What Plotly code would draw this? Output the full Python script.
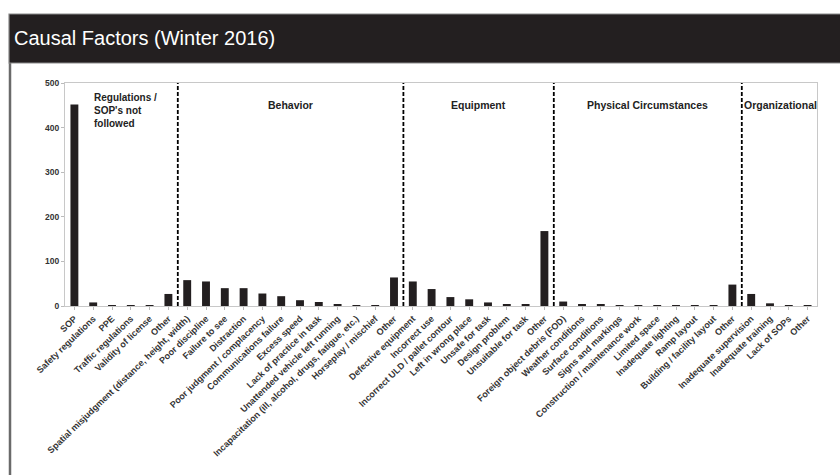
import plotly.graph_objects as go

W, H = 840, 475
# plot area in pixels
L, R, T, B = 65, 817, 83, 306

groups = ["Regulations /<br>SOP's not<br>followed", "Behavior", "Equipment",
          "Physical Circumstances", "Organizational"]

reg_labels = ["SOP", "Safety regulations", "PPE", "Traffic regulations",
              "Validity of license", "Other"]
reg_values = [452, 8, 2, 2, 1, 27]

beh_labels = ["Spatial misjudgment (distance, height, width)", "Poor discipline",
              "Failure to see", "Distraction", "Poor judgment / complacency",
              "Communications failure", "Excess speed", "Lack of practice in task",
              "Unattended vehicle left running",
              "Incapacitation (ill, alcohol, drugs, fatigue, etc.)",
              "Horseplay / mischief", "Other"]
beh_values = [58, 55, 40, 40, 28, 22, 13, 9, 4, 1, 1, 64]

equ_labels = ["Defective equipment", "Incorrect use", "Incorrect ULD / pallet contour",
              "Left in wrong place", "Unsafe for task", "Design problem",
              "Unsuitable for task", "Other"]
equ_values = [55, 38, 20, 15, 8, 4, 3, 168]

phy_labels = ["Foreign object debris (FOD)", "Weather conditions", "Surface conditions",
              "Signs and markings", "Construction / maintenance work", "Limited space",
              "Inadequate lighting", "Ramp layout", "Building / facility layout", "Other"]
phy_values = [10, 4, 3, 2, 1, 1, 1, 1, 1, 48]

org_labels = ["Inadequate supervision", "Inadequate training", "Lack of SOPs", "Other"]
org_values = [27, 6, 2, 2]

label_sets = [reg_labels, beh_labels, equ_labels, phy_labels, org_labels]
value_sets = [reg_values, beh_values, equ_values, phy_values, org_values]

labels = [l for s in label_sets for l in s]
values = [v for s in value_sets for v in s]
xs = list(range(len(labels)))

DARK = "#231f20"


def px_x(p):
    return (p - L) / (R - L)


def px_y(p):
    return (B - p) / (B - T)


fig = go.Figure(go.Bar(x=xs, y=values, width=0.42, marker_color=DARK,
                       marker_line_width=0, showlegend=False))

grp_font = dict(family="Liberation Sans", size=10.5, color="#222")

# group dividers and labels
start = 0
for i, (name, s) in enumerate(zip(groups, label_sets)):
    end = start + len(s)
    if i < len(groups) - 1:
        fig.add_shape(type="line", xref="x", yref="y", x0=end - 0.5, x1=end - 0.5,
                      y0=0, y1=500, line=dict(color="black", width=1.8, dash="4px,2px"))
    if i == 0:
        fig.add_annotation(x=start + 0.95, y=484, text=f"<b>{name}</b>", showarrow=False,
                           xanchor="left", yanchor="top", align="left",
                           font=dict(grp_font, size=10))
    elif i == len(groups) - 1:
        fig.add_annotation(x=start - 0.48, y=450, text=f"<b>{name}</b>", showarrow=False,
                           xanchor="left", yanchor="middle", font=grp_font)
    else:
        fig.add_annotation(x=(start + end - 1) / 2, y=450, text=f"<b>{name}</b>",
                           showarrow=False, xanchor="center", yanchor="middle",
                           font=grp_font)
    start = end

# slide body left edge and title band
fig.add_shape(type="line", xref="paper", yref="paper",
              x0=px_x(10), x1=px_x(10), y0=px_y(63), y1=px_y(500),
              line=dict(color="#6a6a6a", width=2.5))
fig.add_shape(type="rect", xref="paper", yref="paper",
              x0=px_x(9), x1=px_x(860), y0=px_y(14), y1=px_y(63),
              line=dict(color="#8a8a8a", width=1.2), fillcolor=DARK)
# keep the right edge of the slide clean
fig.add_shape(type="rect", xref="paper", yref="paper",
              x0=px_x(826), x1=px_x(870), y0=px_y(64), y1=px_y(500),
              line=dict(width=0), fillcolor="white")
fig.add_annotation(xref="paper", yref="paper", x=px_x(12), y=px_y(38),
                   text="Causal Factors (Winter 2016)", showarrow=False,
                   xanchor="left", yanchor="middle",
                   font=dict(family="Liberation Sans", size=20, color="white"))

tick_font = dict(family="Liberation Sans", size=9, color="#333", weight="bold")
fig.update_xaxes(range=[-0.5, len(labels) - 0.5], tickmode="array", tickvals=xs,
                 ticktext=labels, tickangle=-44, tickfont=tick_font,
                 ticks="outside", ticklen=3, tickcolor="#bbb", tickson="boundaries",
                 showline=True, linecolor="#c8c8c8", linewidth=1, mirror=True,
                 showgrid=False, zeroline=False)
fig.update_yaxes(range=[0, 500], dtick=100, tickfont=dict(tick_font, size=8.5),
                 ticks="outside", ticklen=3, tickcolor="#bbb",
                 showline=True, linecolor="#c8c8c8", linewidth=1, mirror=True,
                 showgrid=False, zeroline=False)

fig.update_layout(width=W, height=H, margin=dict(l=L, r=W - R, t=T, b=H - B),
                  paper_bgcolor="white", plot_bgcolor="white", bargap=0.5)

fig.write_html("out.html", config={"displayModeBar": False},
               post_script="document.body.style.margin='0';"
                           "document.body.style.overflow='hidden';")
